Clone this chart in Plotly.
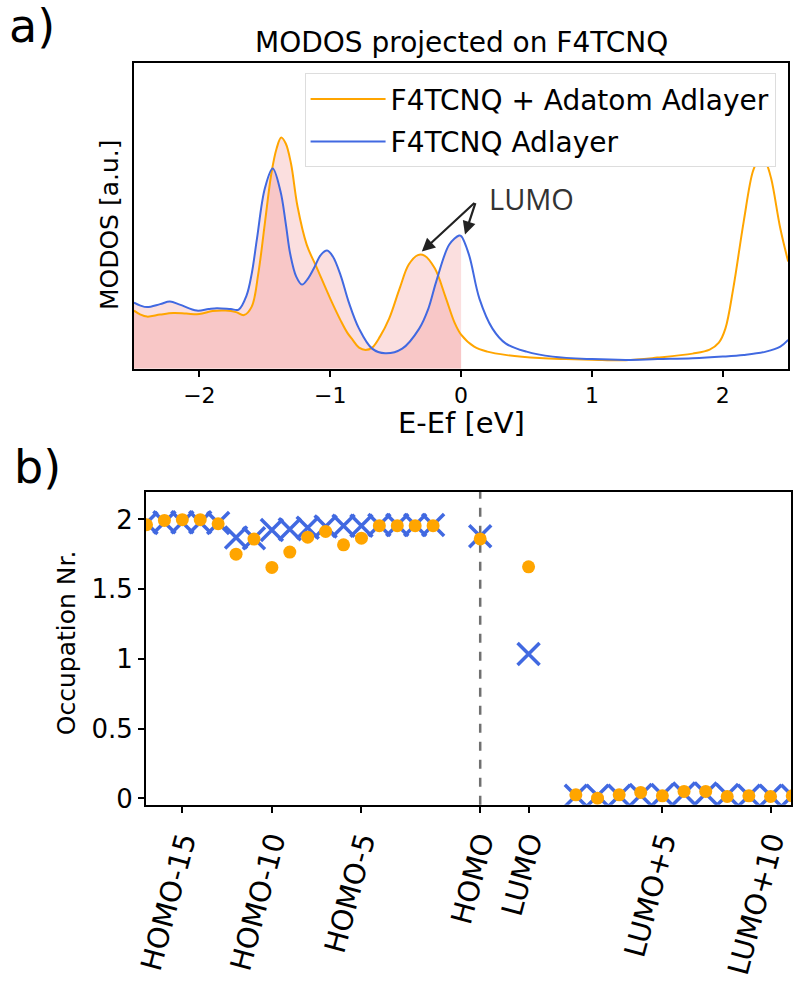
import plotly.graph_objects as go

# ---------------- Panel a data (MODOS) ----------------
E_adatom = [-2.5, -2.45, -2.40, -2.3, -2.2, -2.1, -2.0, -1.9, -1.8, -1.72, -1.66, -1.6, -1.55, -1.5,
            -1.45, -1.41, -1.375, -1.34, -1.30, -1.25, -1.18, -1.1, -1.0, -0.92, -0.87, -0.83, -0.78,
            -0.73, -0.68, -0.62, -0.55, -0.47, -0.4, -0.33, -0.28, -0.2, -0.12, -0.05, 0.0, 0.1, 0.2,
            0.35, 0.6, 0.8, 1.0, 1.26, 1.5, 1.77, 1.9, 1.97, 2.02, 2.08, 2.16, 2.23, 2.27, 2.30, 2.33,
            2.37, 2.44, 2.5]
modos_adatom = [0.58, 0.54, 0.52, 0.54, 0.555, 0.55, 0.545, 0.575, 0.58, 0.565, 0.535, 0.62, 0.95, 1.45,
                1.95, 2.2, 2.31, 2.25, 2.05, 1.62, 1.24, 1.0, 0.70, 0.48, 0.36, 0.29, 0.21,
                0.187, 0.21, 0.32, 0.5, 0.8, 1.04, 1.135, 1.13, 1.0, 0.72, 0.46, 0.34, 0.22, 0.17,
                0.135, 0.105, 0.095, 0.09, 0.085, 0.11, 0.15, 0.19, 0.26, 0.4, 0.8, 1.47, 1.97, 2.08, 2.10, 2.06,
                1.9, 1.4, 1.07]

E_adlayer = [-2.5, -2.45, -2.4, -2.3, -2.225, -2.15, -2.02, -1.93, -1.867, -1.76, -1.7, -1.64, -1.6, -1.56,
             -1.5, -1.44, -1.38, -1.34, -1.305, -1.26, -1.216, -1.17, -1.126, -1.07, -1.024, -0.98, -0.92,
             -0.86, -0.78, -0.68, -0.58, -0.45, -0.32, -0.25, -0.19, -0.09, -0.015, 0.0, 0.06, 0.14, 0.24,
             0.34, 0.5, 0.7, 1.0, 1.26, 1.5, 1.77, 2.0, 2.16, 2.33, 2.44, 2.5]
modos_adlayer = [0.66, 0.63, 0.615, 0.645, 0.67, 0.64, 0.58, 0.595, 0.603, 0.595, 0.59, 0.73, 0.95, 1.3,
                 1.8, 2.0, 1.77, 1.45, 1.14, 0.92, 0.84, 0.9, 1.0, 1.14, 1.18, 1.12, 0.93,
                 0.67, 0.4, 0.2, 0.153, 0.2, 0.4, 0.6, 0.87, 1.24, 1.33, 1.325, 1.14, 0.70, 0.40,
                 0.253, 0.17, 0.12, 0.095, 0.087, 0.095, 0.103, 0.12, 0.137, 0.17, 0.22, 0.287]

# ---------------- Panel b data (occupations) ----------------
orbital_labels = ["HOMO-%d" % n for n in range(17, 0, -1)] + ["HOMO", "LUMO"] + \
                 ["LUMO+%d" % n for n in range(1, 12)]
orbital_pos = [-18.63, -17.63, -16.63, -15.63, -14.63, -13.63, -12.63, -11.63, -10.63, -9.63,
               -8.63, -7.63, -6.63, -5.63, -4.63, -3.63, -2.63,
               0.0, 2.70,
               5.34, 6.55, 7.76, 8.96, 10.17, 11.38, 12.59, 13.79, 15.0, 16.21, 17.42]
occ_adatom = [1.962, 1.993, 1.998, 1.998, 1.969, 1.751, 1.859, 1.656, 1.766, 1.873, 1.914, 1.818,
              1.866, 1.955, 1.955, 1.955, 1.955,
              1.86, 1.66,
              0.026, 0.002, 0.026, 0.043, 0.019, 0.05, 0.05, 0.014, 0.019, 0.014, 0.019]
occ_adlayer = [1.975, 1.98, 1.98, 1.98, 1.975, 1.87, 1.865, 1.925, 1.93, 1.94, 1.95, 1.955,
               1.955, 1.96, 1.96, 1.96, 1.96,
               1.88, 1.035,
               0.02, 0.02, 0.02, 0.025, 0.025, 0.035, 0.035, 0.025, 0.02, 0.02, 0.02]
tick_orbitals = ["HOMO-15", "HOMO-10", "HOMO-5", "HOMO", "LUMO", "LUMO+5", "LUMO+10"]

ORANGE = "#FFA500"
BLUE = "#4169E1"
FILL = "rgba(240,128,128,0.25)"
FONT = "DejaVu Sans"

fig = go.Figure()

# fills (E <= 0)
for E, M in ((E_adatom, modos_adatom), (E_adlayer, modos_adlayer)):
    ef = [e for e in E if e <= 0]
    mf = [m for e, m in zip(E, M) if e <= 0]
    fig.add_trace(go.Scatter(x=ef, y=mf, mode="lines", line=dict(width=0, shape="spline"),
                             fill="tozeroy", fillcolor=FILL, showlegend=False, hoverinfo="skip",
                             xaxis="x", yaxis="y"))

fig.add_trace(go.Scatter(x=E_adatom, y=modos_adatom, mode="lines", name="F4TCNQ + Adatom Adlayer",
                         legendgroup="g1",
                         line=dict(color=ORANGE, width=2, shape="spline"), xaxis="x", yaxis="y"))
fig.add_trace(go.Scatter(x=E_adlayer, y=modos_adlayer, mode="lines", name="F4TCNQ Adlayer",
                         legendgroup="g2",
                         line=dict(color=BLUE, width=2, shape="spline"), xaxis="x", yaxis="y"))

# panel b
fig.add_trace(go.Scatter(x=orbital_pos, y=occ_adlayer, mode="markers", showlegend=False,
                         marker=dict(symbol="x-thin", size=22, line=dict(color=BLUE, width=3.5)),
                         xaxis="x2", yaxis="y2"))
fig.add_trace(go.Scatter(x=orbital_pos, y=occ_adatom, mode="markers", showlegend=False,
                         marker=dict(symbol="circle", size=13, color=ORANGE, line=dict(width=0)),
                         xaxis="x2", yaxis="y2"))

homo_x = orbital_pos[orbital_labels.index("HOMO")]
fig.add_shape(type="line", xref="x2", yref="y2 domain", x0=homo_x, x1=homo_x, y0=0, y1=1,
              line=dict(color="#707070", width=2.5, dash="dash"), layer="below")

tickpos = [orbital_pos[orbital_labels.index(t)] for t in tick_orbitals]

axis_common = dict(showline=True, linecolor="black", linewidth=2, mirror=True, ticks="outside",
                   ticklen=6, tickwidth=2, tickcolor="black", showgrid=False, zeroline=False)

AX_DOM = [0.1548, 0.985]
AY_DOM = [0.6284, 0.936]
BX_DOM = [0.170, 0.989]
BY_DOM = [0.1888, 0.5045]

fig.update_layout(
    width=800, height=1001, margin=dict(l=0, r=0, t=0, b=0),
    paper_bgcolor="white", plot_bgcolor="white",
    font=dict(family=FONT, color="black"),
    xaxis=dict(domain=AX_DOM, anchor="y", range=[-2.5, 2.5],
               tickvals=[-2, -1, 0, 1, 2], ticktext=["\u22122", "\u22121", "0", "1", "2"],
               tickfont=dict(size=22), **axis_common),
    yaxis=dict(domain=AY_DOM, anchor="x", range=[0, 3.05], showticklabels=False,
               showline=True, linecolor="black", linewidth=2, mirror=True, ticks="",
               showgrid=False, zeroline=False),
    xaxis2=dict(domain=BX_DOM, anchor="y2", range=[-18.66, 17.37],
                tickvals=tickpos, ticktext=tick_orbitals, tickangle=-75,
                tickfont=dict(size=29), **axis_common),
    yaxis2=dict(domain=BY_DOM, anchor="x2", range=[-0.045, 2.2],
                tickvals=[0, 0.5, 1, 1.5, 2], ticktext=["0", "0.5", "1", "1.5", "2"],
                tickfont=dict(size=26), **axis_common),
    legend=dict(x=0.969, y=0.926, xanchor="right", yanchor="top", bgcolor="white",
                bordercolor="#dddddd", borderwidth=1, font=dict(size=28), itemwidth=75,
                traceorder="grouped", tracegroupgap=3),
)

ann = [
    dict(text="a)", x=-0.006, y=1.003, xref="paper", yref="paper", xanchor="left", yanchor="top",
         showarrow=False, font=dict(size=46)),
    dict(text="b)", x=0.0, y=0.558, xref="paper", yref="paper", xanchor="left", yanchor="top",
         showarrow=False, font=dict(size=46)),
    dict(text="MODOS projected on F4TCNQ", x=0.570, y=0.957, xref="paper", yref="paper",
         xanchor="center", yanchor="middle", showarrow=False, font=dict(size=28)),
    dict(text="E-Ef [eV]", x=0.570, y=0.5735, xref="paper", yref="paper", xanchor="center",
         yanchor="middle", showarrow=False, font=dict(size=29)),
    dict(text="MODOS [a.u.]", x=0.123, y=0.774, xref="paper", yref="paper", xanchor="center",
         yanchor="middle", showarrow=False, textangle=-90, font=dict(size=25)),
    dict(text="Occupation Nr.", x=0.069, y=0.352, xref="paper", yref="paper", xanchor="center",
         yanchor="middle", showarrow=False, textangle=-90, font=dict(size=25)),
    dict(text="LUMO", x=0.20, y=1.70, xref="x", yref="y", xanchor="left", yanchor="middle",
         showarrow=False, font=dict(size=29, family="Open Sans", color="#333333")),
    dict(text="", x=-0.30, y=1.17, xref="x", yref="y", ax=0.113, ay=1.67, axref="x", ayref="y",
         showarrow=True, arrowhead=2, arrowsize=1.2, arrowwidth=2.2, arrowcolor="#222222", standoff=0),
    dict(text="", x=0.03, y=1.34, xref="x", yref="y", ax=0.113, ay=1.67, axref="x", ayref="y",
         showarrow=True, arrowhead=2, arrowsize=1.2, arrowwidth=2.2, arrowcolor="#222222", standoff=0),
]
fig.update_layout(annotations=ann)

fig.write_html("out.html", config={"displayModeBar": False},
               post_script="document.body.style.margin='0px';")
